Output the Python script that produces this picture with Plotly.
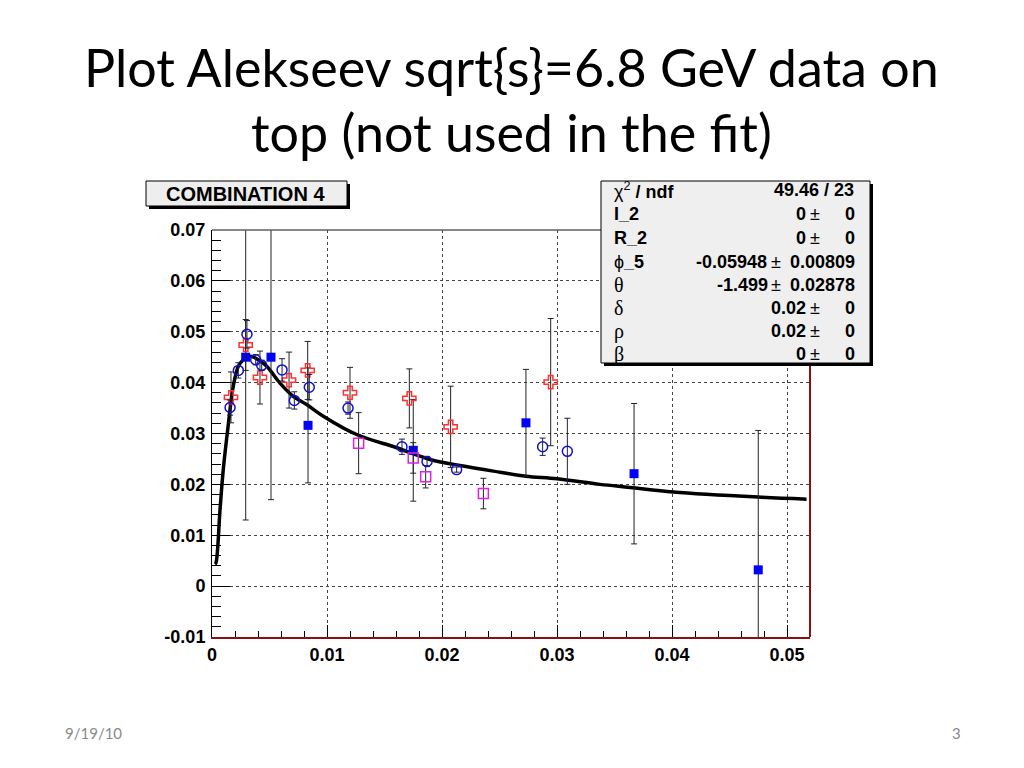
import plotly.graph_objects as go

# ---------------- data ----------------
circ_x = [0.00157, 0.00229, 0.00304, 0.00380, 0.00432, 0.00609, 0.00716, 0.00846,
          0.01183, 0.01652, 0.01870, 0.02127, 0.02875, 0.03090]
circ_y = [0.0351, 0.0424, 0.0495, 0.0445, 0.0434, 0.0425, 0.0365, 0.0391,
          0.0350, 0.0274, 0.0245, 0.0229, 0.0274, 0.0265]
circ_e = [0.0015, 0.0015, 0.0027, 0.0010, 0.0010, 0.0022, 0.0017, 0.0025,
          0.0012, 0.0015, 0.0010, 0.0005, 0.0017, 0.0065]

cross_x = [0.00165, 0.00293, 0.00417, 0.00670, 0.00832, 0.01200, 0.01716, 0.02075, 0.02945]
cross_y = [0.0371, 0.0474, 0.0410, 0.0405, 0.0424, 0.0380, 0.0369, 0.0313, 0.0401]
cross_e = [0.0050, 0.0050, 0.0052, 0.0055, 0.0057, 0.0050, 0.0058, 0.0080, 0.0125]

sq_x = [0.00293, 0.00513, 0.00835, 0.01750, 0.02730, 0.03670, 0.04750]
sq_y = [0.0450, 0.0450, 0.0316, 0.0267, 0.0321, 0.0221, 0.0032]
sq_e = [0.0320, 0.0280, 0.0113, 0.0100, 0.0105, 0.0138, 0.0274]

mag_x = [0.01275, 0.01750, 0.01858, 0.02360]
mag_y = [0.0281, 0.0252, 0.0215, 0.0182]
mag_e = [0.0060, 0.0030, 0.0022, 0.0030]

fit_x = [0.00026, 0.00035, 0.00070, 0.00098, 0.00142, 0.00185, 0.00229, 0.00272,
         0.00330, 0.00403, 0.00476, 0.00591, 0.00707, 0.00823, 0.00968, 0.01258,
         0.01606, 0.01896, 0.02185, 0.02504, 0.02730, 0.03000, 0.03374, 0.03635,
         0.04010, 0.04750, 0.05170]
fit_y = [0.0043, 0.0046, 0.0151, 0.0229, 0.0318, 0.0393, 0.0432, 0.0445,
         0.0452, 0.0445, 0.0432, 0.0399, 0.0373, 0.0357, 0.0334, 0.0298,
         0.0272, 0.0249, 0.0236, 0.0224, 0.0216, 0.0211, 0.0200, 0.0194,
         0.0185, 0.0175, 0.0171]

x_ticks = [0, 0.01, 0.02, 0.03, 0.04, 0.05]
x_ticktext = ["0", "0.01", "0.02", "0.03", "0.04", "0.05"]
y_ticks = [-0.01, 0, 0.01, 0.02, 0.03, 0.04, 0.05, 0.06, 0.07]
y_ticktext = ["-0.01", "0", "0.01", "0.02", "0.03", "0.04", "0.05", "0.06", "0.07"]

stat_labels = ["χ<sup>2</sup><b> / ndf</b>", "<b>I_2</b>", "<b>R_2</b>", "ϕ<b>_5</b>",
               "θ", "δ", "ρ", "β"]
stat_values = ["49.46 / 23", "0", "0", "-0.05948", "-1.499", "0.02", "0.02", "0"]
stat_errors = ["", "0", "0", "0.00809", "0.02878", "0", "0", "0"]

# ---------------- layout geometry (reference-page pixels) ----------------
OFF = 8                     # default body margin of the html page
W, H = 1024 - 2 * OFF, 768 - 2 * OFF
PL, PR, PT, PB = 212, 810, 230, 637


def fx(px):
    return (px - PL) / (PR - PL)


def fy(py):
    return (PB - py) / (PB - PT)


fig = go.Figure()

fig.add_trace(go.Scatter(
    x=fit_x, y=fit_y, mode="lines", line=dict(color="black", width=3.5, shape="spline"),
    showlegend=False, hoverinfo="skip"))

err_common = dict(type="data", visible=True, thickness=1, width=3)

fig.add_trace(go.Scatter(
    x=sq_x, y=sq_y, mode="markers",
    marker=dict(symbol="square", size=9, color="#0000ff"),
    error_y=dict(array=sq_e, color="#222222", **err_common), showlegend=False))

fig.add_trace(go.Scatter(
    x=mag_x, y=mag_y, mode="markers",
    marker=dict(symbol="square-open", size=10, color="#e020e0", line=dict(width=1.5)),
    error_y=dict(array=mag_e, color="#222222", **err_common), showlegend=False))

fig.add_trace(go.Scatter(
    x=cross_x, y=cross_y, mode="markers",
    marker=dict(symbol="cross-open", size=11, color="#ff3030", line=dict(width=1.5)),
    error_y=dict(array=cross_e, color="#222222", **err_common), showlegend=False))

fig.add_trace(go.Scatter(
    x=circ_x, y=circ_y, mode="markers",
    marker=dict(symbol="circle-open", size=10, color="#1010d0", line=dict(width=1.5)),
    error_y=dict(array=circ_e, color="#202040", **err_common), showlegend=False))

tickfont = dict(family="Liberation Sans, Arial, sans-serif", size=18, color="black", weight="bold")

fig.update_xaxes(
    range=[0, 0.052], tickvals=x_ticks, ticktext=x_ticktext, tickfont=tickfont,
    ticks="inside", ticklen=12, tickcolor="black", tickwidth=1,
    minor=dict(dtick=0.002, ticks="inside", ticklen=6, tickcolor="black", showgrid=False),
    showgrid=True, gridcolor="#444444", griddash="dot", gridwidth=1,
    showline=True, linecolor="#8b1010", linewidth=2, zeroline=False, ticklabelstandoff=0)
fig.update_yaxes(
    range=[-0.01, 0.07], tickvals=y_ticks, ticktext=y_ticktext, tickfont=tickfont,
    ticks="inside", ticklen=18, tickcolor="black", tickwidth=1,
    minor=dict(dtick=0.002, ticks="inside", ticklen=9, tickcolor="black", showgrid=False),
    showgrid=True, gridcolor="#444444", griddash="dot", gridwidth=1,
    showline=True, linecolor="black", linewidth=1, zeroline=False, ticklabelstandoff=2)

shapes = [
    dict(type="line", xref="paper", yref="paper", x0=0, x1=1, y0=1, y1=1,
         line=dict(color="#606060", width=1.5), layer="above"),
    dict(type="line", xref="paper", yref="paper", x0=1, x1=1, y0=0, y1=1,
         line=dict(color="#8b1010", width=2), layer="above"),
    dict(type="rect", xref="paper", yref="paper", x0=fx(149), x1=fx(350), y0=fy(209), y1=fy(184),
         fillcolor="black", line=dict(width=0), layer="above"),
    dict(type="rect", xref="paper", yref="paper", x0=fx(146), x1=fx(347), y0=fy(206), y1=fy(181),
         fillcolor="#eeeeee", line=dict(color="black", width=1), layer="above"),
    dict(type="rect", xref="paper", yref="paper", x0=fx(604), x1=fx(873), y0=fy(366), y1=fy(184),
         fillcolor="black", line=dict(width=0), layer="above"),
    dict(type="rect", xref="paper", yref="paper", x0=fx(601), x1=fx(870), y0=fy(363), y1=fy(181),
         fillcolor="#efefef", line=dict(color="black", width=1), layer="above"),
]

annotations = []
title_font = dict(family="Lato, Open Sans, sans-serif", size=52, color="black")
annotations.append(dict(text="Plot Alekseev sqrt{s}=6.8 GeV data on", x=fx(511), y=fy(67),
                        xref="paper", yref="paper", showarrow=False, font=title_font,
                        xanchor="center", yanchor="middle"))
annotations.append(dict(text="top (not used in the fit)", x=fx(511), y=fy(132),
                        xref="paper", yref="paper", showarrow=False, font=title_font,
                        xanchor="center", yanchor="middle"))
foot_font = dict(family="Lato, sans-serif", size=15, color="#8a8a8a")
annotations.append(dict(text="9/19/10", x=fx(63), y=fy(733), xref="paper", yref="paper",
                        showarrow=False, font=foot_font, xanchor="left", yanchor="middle"))
annotations.append(dict(text="3", x=fx(963), y=fy(733), xref="paper", yref="paper",
                        showarrow=False, font=foot_font, xanchor="right", yanchor="middle"))
annotations.append(dict(text="<b>COMBINATION 4</b>", x=fx(245), y=fy(194), xref="paper", yref="paper",
                        showarrow=False, xanchor="center", yanchor="middle",
                        font=dict(family="Liberation Sans, Arial, sans-serif", size=20, color="black")))

stat_font = dict(family="Liberation Sans, Arial, sans-serif", size=18, color="black")
greek_font = dict(family="Liberation Serif, DejaVu Serif, serif", size=20, color="black")
row_y = [190, 214, 238, 262, 285, 308, 331, 354]
pm_x = [None, 815, 815, 776, 776, 815, 815, 815]
val_x = [856, 808, 808, 769, 770, 808, 808, 808]
for i in range(len(stat_labels)):
    annotations.append(dict(text=stat_labels[i], x=fx(612), y=fy(row_y[i]), xref="paper", yref="paper",
                            showarrow=False, xanchor="left", yanchor="middle",
                            font=greek_font if i >= 4 else stat_font))
    annotations.append(dict(text="<b>" + stat_values[i] + "</b>", x=fx(val_x[i]), y=fy(row_y[i]),
                            xref="paper", yref="paper", showarrow=False, xanchor="right",
                            yanchor="middle", font=stat_font))
    if stat_errors[i]:
        annotations.append(dict(text="±", x=fx(pm_x[i]), y=fy(row_y[i]), xref="paper", yref="paper",
                                showarrow=False, xanchor="center", yanchor="middle",
                                font=dict(family="Liberation Sans, Arial, sans-serif", size=18, color="black")))
        annotations.append(dict(text="<b>" + stat_errors[i] + "</b>", x=fx(857), y=fy(row_y[i]),
                                xref="paper", yref="paper", showarrow=False, xanchor="right",
                                yanchor="middle", font=stat_font))

fig.update_layout(
    width=W, height=H, autosize=False,
    margin=dict(l=PL - OFF, r=W - (PR - OFF), t=PT - OFF, b=H - (PB - OFF), pad=0),
    paper_bgcolor="white", plot_bgcolor="white",
    shapes=shapes, annotations=annotations, showlegend=False)

fig.write_html("out.html")
